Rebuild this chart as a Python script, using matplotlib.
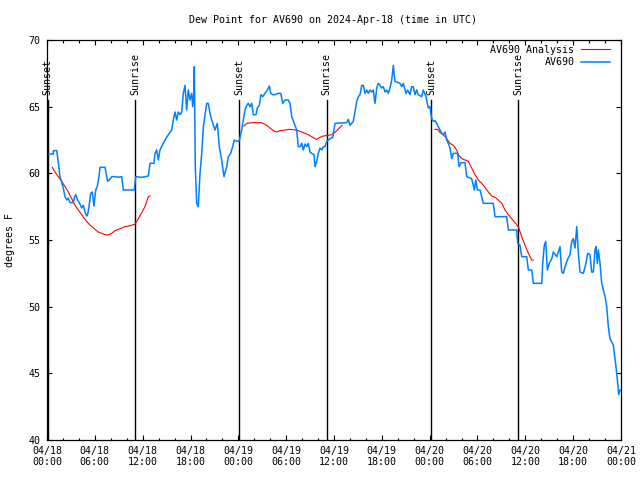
import numpy as np
import matplotlib
matplotlib.use('Agg')
import matplotlib.pyplot as plt
from matplotlib.ticker import MultipleLocator

plt.rcParams['font.family'] = 'DejaVu Sans Mono'
plt.rcParams['font.size'] = 7.2

# hours since 2024-04-18 00:00 UTC, dew point in F
obs_hours = [0.09, 0.79, 0.79, 1.22, 1.42, 1.63, 1.84, 2.04, 2.26, 2.47, 2.67, 2.89, 3.30, 3.42, 3.60, 3.85,
             4.05, 4.35, 4.55, 4.77, 4.98, 5.10, 5.27, 5.48, 5.68, 5.89, 6.11, 6.31, 6.52, 6.65, 7.28, 7.61,
             7.81, 8.12, 8.74, 8.87, 9.37, 9.57, 10.95, 11.13, 11.88, 12.71, 12.92, 13.42, 13.55, 13.76, 13.96,
             14.17, 14.80, 15.22, 15.64, 15.84, 16.06, 16.27, 16.47, 16.68, 16.90, 17.10, 17.31, 17.52, 17.72,
             17.94, 18.15, 18.28, 18.40, 18.48, 18.60, 18.78, 18.98, 19.19, 19.41, 19.61, 20.03, 20.23, 20.45,
             20.66, 21.07, 21.36, 21.61, 21.91, 22.20, 22.54, 22.74, 23.04, 23.29, 23.49, 23.80, 24.12, 24.42,
             24.62, 24.84, 25.05, 25.25, 25.46, 25.68, 25.88, 26.22, 26.38, 26.63, 26.84, 27.06, 27.35, 27.63,
             27.89, 28.06, 28.31, 28.60, 29.01, 29.32, 29.57, 29.85, 30.27, 30.48, 30.70, 31.11, 31.32, 31.52,
             31.74, 31.95, 32.15, 32.36, 32.58, 32.78, 32.99, 33.20, 33.49, 33.62, 33.83, 34.03, 34.24, 34.46,
             34.66, 34.87, 35.09, 35.50, 35.84, 36.13, 37.59, 37.79, 38.01, 38.42, 38.63, 38.85, 39.05, 39.26,
             39.48, 39.68, 39.89, 40.10, 40.30, 40.52, 40.73, 40.93, 41.14, 41.36, 41.56, 41.77, 41.98, 42.19,
             42.40, 42.61, 42.81, 43.03, 43.24, 43.44, 43.53, 43.65, 44.28, 44.49, 44.69, 45.03, 45.24, 45.53,
             45.74, 45.95, 46.16, 46.37, 46.58, 47.00, 47.20, 47.54, 47.70, 47.83, 48.04, 48.25, 48.45, 48.67,
             48.88, 49.08, 49.51, 49.71, 49.93, 50.14, 50.34, 50.55, 50.77, 50.97, 51.52, 51.68, 51.93, 52.43,
             52.65, 53.27, 53.60, 53.78, 53.98, 54.32, 54.73, 55.98, 56.20, 57.66, 57.87, 58.92, 59.04, 59.33,
             59.55, 60.17, 60.38, 60.80, 61.01, 62.06, 62.18, 62.38, 62.56, 62.76, 63.01, 63.31, 63.51, 63.94,
             64.14, 64.35, 64.56, 64.77, 64.98, 65.27, 65.60, 65.82, 66.02, 66.23, 66.45, 66.65, 66.86, 67.27,
             67.61, 67.82, 68.11, 68.32, 68.53, 68.74, 68.87, 69.03, 69.16, 69.37, 69.58, 70.00, 70.21, 70.41,
             70.62, 71.04, 71.37, 71.59, 71.71, 71.88, 72.00]
obs_dewpt = [61.45, 61.45, 61.7, 61.7, 60.8, 59.75, 59.3, 58.9, 58.25, 58.0, 58.15, 57.8, 57.8, 58.15, 58.4, 58.0,
             57.8, 57.4, 57.6, 57.1, 56.8, 56.9, 57.5, 58.5, 58.6, 57.55, 58.75, 59.0, 59.75, 60.45, 60.45, 59.4,
             59.5, 59.75, 59.75, 59.7, 59.75, 58.75, 58.75, 59.75, 59.7, 59.8, 60.75, 60.75, 61.5, 61.75, 61.0,
             61.75, 62.5, 62.9, 63.25, 64.0, 64.6, 64.0, 64.6, 64.4, 64.6, 66.0, 66.6, 64.75, 66.25,
             65.5, 66.0, 65.0, 65.9, 68.0, 60.5, 57.75, 57.5, 60.0, 61.5, 63.5, 65.25, 65.25, 64.5,
             64.0, 63.25, 63.75, 62.0, 61.0, 59.75, 60.5, 61.25, 61.5, 62.0, 62.5, 62.4, 62.45, 63.25,
             64.0, 64.75, 65.1, 65.25, 65.0, 65.25, 64.4, 64.4, 64.9, 65.1, 65.9, 65.75, 66.0, 66.25,
             66.55, 66.0, 65.9, 65.9, 66.0, 66.0, 65.25, 65.5, 65.5, 65.25, 64.25, 63.6, 63.25, 62.0,
             62.0, 62.25, 61.75, 62.2, 62.0, 62.25, 61.6, 61.5, 61.4, 60.5, 60.9, 61.5, 61.9, 61.75,
             62.0, 62.0, 62.4, 62.6, 62.7, 63.75, 63.8, 64.05, 63.6, 63.9, 64.6, 65.4, 65.75, 65.9,
             66.6, 66.6, 66.0, 66.25, 66.0, 66.25, 66.1, 66.25, 65.25, 66.4, 66.75, 66.6, 66.4, 66.5,
             66.1, 66.25, 66.0, 66.4, 67.0, 68.1, 67.5, 66.9, 66.75, 66.5, 66.75, 66.0, 66.25, 65.9,
             66.5, 66.5, 65.9, 66.25, 65.9, 65.75, 66.25, 65.75, 65.25, 64.9, 65.0, 64.1, 63.9, 63.95,
             63.75, 63.5, 63.0, 62.9, 63.1, 62.5, 62.25, 61.9, 61.1, 61.5, 61.5, 60.5, 60.8, 60.8,
             59.75, 59.6, 58.75, 59.5, 58.75, 58.75, 57.75, 57.75, 56.75, 56.75, 55.75, 55.75, 54.75, 54.6,
             53.75, 53.75, 52.75, 52.75, 51.75, 51.75, 53.25, 54.6, 54.9, 52.75, 53.25, 53.6, 54.1, 53.75,
             54.1, 54.5, 52.6, 52.5, 53.0, 53.5, 53.9, 54.9, 55.1, 54.4, 56.0, 54.0, 52.6, 52.5,
             53.25, 54.0, 53.9, 52.6, 52.6, 54.25, 54.5, 53.25, 54.25, 53.25, 51.75, 50.75, 50.0, 48.5,
             47.6, 47.1, 45.5, 44.25, 43.4, 43.75, 43.75]

# analysis curve, NaN marks gaps
ana_hours = [0.66, 1.0, 1.42, 1.84, 2.26, 2.67, 3.10, 3.51, 3.93, 4.35, 4.77, 5.18, 5.61, 6.02, 6.44, 6.86,
             7.28, 7.69, 8.12, 8.53, 8.94, 9.37, 9.78, 10.20, 10.62, 11.04, 11.45, 11.88, 12.29, 12.71, 12.92,
             13.0,
             24.71, 25.05, 25.68, 26.30, 26.93, 27.56, 27.97, 28.39, 28.81, 29.23, 29.85, 30.48, 31.11, 31.52,
             31.95, 32.36, 32.78, 33.20, 33.62, 33.83, 34.24, 34.66, 35.29, 35.71, 36.0, 36.34, 36.75, 37.0,
             37.1,
             48.67, 49.0, 49.30, 49.71, 50.14, 50.55, 50.97, 51.39, 51.59, 52.02, 52.43, 52.85, 53.27, 53.69,
             54.10, 54.53, 54.94, 55.36, 55.78, 56.20, 56.61, 57.04, 57.45, 57.87, 58.29, 58.71, 59.12, 59.55,
             59.96, 60.38, 60.80, 61.0]
ana_dewpt = [60.45, 60.1, 59.75, 59.4, 59.0, 58.6, 58.1, 57.6, 57.25, 56.9, 56.55, 56.25, 56.0, 55.8, 55.6, 55.5,
             55.4, 55.38, 55.5, 55.7, 55.8, 55.9, 56.0, 56.05, 56.1, 56.2, 56.6, 57.05, 57.5, 58.25, 58.3,
             np.nan,
             63.55, 63.75, 63.8, 63.8, 63.8, 63.6, 63.4, 63.2, 63.1, 63.2, 63.25, 63.3, 63.25, 63.2,
             63.1, 63.0, 62.9, 62.75, 62.6, 62.55, 62.7, 62.8, 62.85, 62.9, 63.0, 63.2, 63.45, 63.6,
             np.nan,
             63.3, 63.3, 63.05, 62.9, 62.6, 62.25, 62.1, 61.75, 61.4, 61.1, 61.0, 60.9, 60.4, 59.9,
             59.5, 59.25, 58.95, 58.6, 58.3, 58.2, 58.0, 57.75, 57.25, 56.9, 56.6, 56.3, 56.0, 55.25,
             54.6, 54.0, 53.5, 53.5]

sun_hours = [0.1, 11.05, 24.1, 35.1, 48.2, 59.1]
sun_labels = ['Sunset', 'Sunrise', 'Sunset', 'Sunrise', 'Sunset', 'Sunrise']

tick_hours = list(range(0, 73, 6))
tick_labels = ['04/18\n00:00', '04/18\n06:00', '04/18\n12:00', '04/18\n18:00',
               '04/19\n00:00', '04/19\n06:00', '04/19\n12:00', '04/19\n18:00',
               '04/20\n00:00', '04/20\n06:00', '04/20\n12:00', '04/20\n18:00',
               '04/21\n00:00']

fig = plt.figure(figsize=(6.4, 4.8), dpi=100)
ax = fig.add_axes([47/640, 40/480, 574/640, 400/480])

for h, lab in zip(sun_hours, sun_labels):
    ax.plot([h, h], [40, 65.5], color='black', lw=1.0)
    ax.text(h, 65.85, lab, rotation=90, ha='center', va='bottom')

ax.plot(ana_hours, ana_dewpt, color='#ff0000', lw=0.8, label='AV690 Analysis')
ax.plot(obs_hours, obs_dewpt, color='#0080ff', lw=1.1, label='AV690')

ax.set_xlim(0, 72)
ax.set_ylim(40, 70)
ax.set_xticks(tick_hours)
ax.set_xticklabels(tick_labels)
ax.xaxis.set_minor_locator(MultipleLocator(2))
ax.set_yticks(range(40, 71, 5))
ax.tick_params(which='both', direction='in', top=True, right=True, width=0.8, color='black')
ax.tick_params(which='major', length=3.5)
ax.tick_params(which='minor', length=1.8)
ax.tick_params(axis='y', pad=4.5)
ax.tick_params(axis='x', pad=4)
for s in ax.spines.values():
    s.set_linewidth(0.9)

leg = ax.legend(loc='upper right', bbox_to_anchor=(1 - 11/574, 1 - 5/400), borderaxespad=0, borderpad=0,
                frameon=False, markerfirst=False, handlelength=2.9, handletextpad=0.65, labelspacing=0.25)

fig.text(333/640, 1 - 20/480, 'Dew Point for AV690 on 2024-Apr-18 (time in UTC)', ha='center', va='center')
fig.text(10/640, 0.5, 'degrees F', rotation=90, ha='center', va='center')

fig.savefig('out.png', dpi=100)
